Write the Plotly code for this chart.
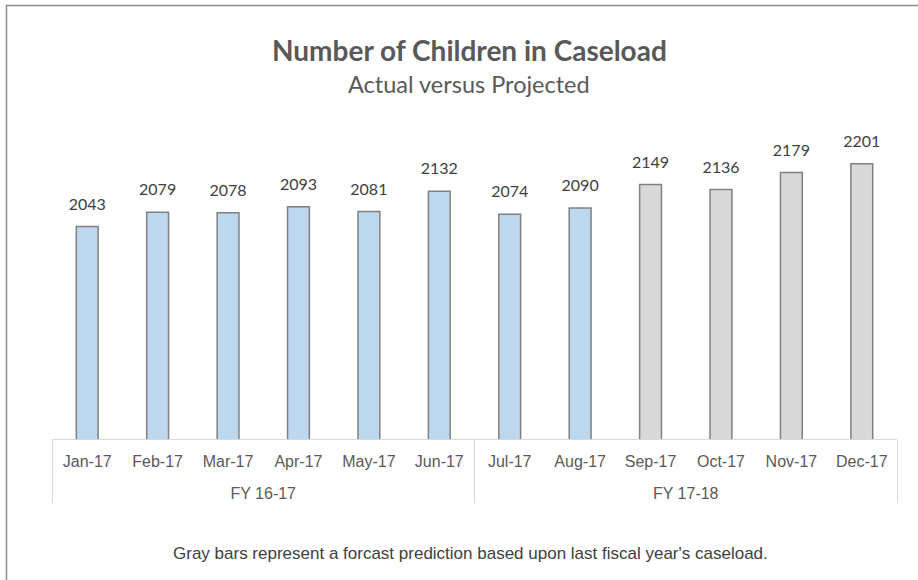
import plotly.graph_objects as go

months = ["Jan-17", "Feb-17", "Mar-17", "Apr-17", "May-17", "Jun-17",
          "Jul-17", "Aug-17", "Sep-17", "Oct-17", "Nov-17", "Dec-17"]
fiscal_years = ["FY 16-17"] * 6 + ["FY 17-18"] * 6
caseload = [2043, 2079, 2078, 2093, 2081, 2132, 2074, 2090, 2149, 2136, 2179, 2201]
kind = ["Actual"] * 8 + ["Projected"] * 4

colour_map = {"Actual": "#BDD7EE", "Projected": "#D9D9D9"}
bar_colours = [colour_map[k] for k in kind]

# month tick labels get an empty second line so the fiscal-year row sits lower
month_labels = [m + "<br> " for m in months]

W, H = 918, 580
L, R, T, B = 52, 21, 82, 141
pw, ph = W - L - R, H - T - B

def px_x(x):
    return (x - L) / pw

def px_y(y):
    return (H - B - y) / ph

fig = go.Figure()
fig.add_trace(go.Bar(
    x=[fiscal_years, month_labels],
    y=caseload,
    marker=dict(color=bar_colours, line=dict(color="#808080", width=1.5)),
    hoverinfo="x+y",
))
fig.add_trace(go.Scatter(
    x=[fiscal_years, month_labels],
    y=caseload,
    mode="markers+text",
    text=[str(v) for v in caseload],
    textposition="top center",
    marker=dict(size=19, color="rgba(0,0,0,0)", opacity=0),
    textfont=dict(family="Lato, Open Sans, sans-serif", size=16, color="#404040"),
    cliponaxis=False,
    hoverinfo="skip",
))

fig.update_layout(
    width=W, height=H,
    margin=dict(l=L, r=R, t=T, b=B, pad=0),
    paper_bgcolor="white",
    plot_bgcolor="white",
    bargap=0.69,
    showlegend=False,
    xaxis=dict(
        type="multicategory",
        range=[-0.5, 11.5],
        showline=True, linecolor="#D9D9D9", linewidth=1,
        showdividers=True, dividercolor="#D9D9D9", dividerwidth=1,
        ticks="",
        ticklabelstandoff=8,
        tickfont=dict(family="Liberation Sans, Arial, sans-serif", size=16, color="#595959"),
        showgrid=False,
    ),
    yaxis=dict(
        range=[1508, 2407],
        visible=False,
        showgrid=False,
        zeroline=False,
    ),
    annotations=[
        dict(text="<b>Number of Children in Caseload</b>", xref="paper", yref="paper",
             x=px_x(469), y=px_y(50), xanchor="center", yanchor="middle", showarrow=False,
             font=dict(family="Lato, Open Sans, sans-serif", size=28, color="#595959")),
        dict(text="Actual versus Projected", xref="paper", yref="paper",
             x=px_x(469), y=px_y(84), xanchor="center", yanchor="middle", showarrow=False,
             font=dict(family="Lato, Open Sans, sans-serif", size=23.5, color="#595959")),
        dict(text="Gray bars represent a forcast prediction based upon last fiscal year's caseload.",
             xref="paper", yref="paper",
             x=px_x(470), y=px_y(553), xanchor="center", yanchor="middle", showarrow=False,
             font=dict(family="Liberation Sans, Arial, sans-serif", size=17, color="#404040")),
    ],
    shapes=[
        dict(type="rect", xref="paper", yref="paper",
             x0=px_x(6.5), x1=px_x(930), y0=px_y(600), y1=px_y(5.5),
             line=dict(color="#8C8C8C", width=1.5), fillcolor="rgba(0,0,0,0)", layer="below"),
    ],
)

fig.write_html("out.html", config={"displayModeBar": False},
               post_script="document.body.style.margin='0px';")
